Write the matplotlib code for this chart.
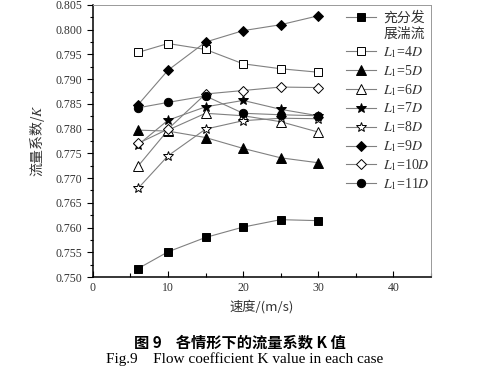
import matplotlib
matplotlib.use("Agg")
import matplotlib.pyplot as plt
from matplotlib.lines import Line2D
from matplotlib.ticker import MultipleLocator, FormatStrFormatter

plt.rcParams['font.family'] = ['Liberation Serif', 'Noto Sans CJK SC']
plt.rcParams['mathtext.fontset'] = 'stix'

speed = [6, 10, 15, 20, 25, 30]

k_full = [0.7517, 0.7551, 0.7580, 0.7601, 0.7616, 0.7614]
k_4d = [0.7954, 0.7972, 0.7960, 0.7931, 0.7921, 0.7914]
k_5d = [0.7797, 0.7795, 0.7782, 0.7760, 0.7741, 0.7731]
k_6d = [0.7724, 0.7797, 0.7831, 0.7826, 0.7814, 0.7793]
k_7d = [0.7767, 0.7817, 0.7844, 0.7857, 0.7839, 0.7826]
k_8d = [0.7679, 0.7745, 0.7799, 0.7816, 0.7821, 0.7820]
k_9d = [0.7848, 0.7918, 0.7975, 0.7998, 0.8010, 0.8028]
k_10d = [0.7770, 0.7799, 0.7870, 0.7877, 0.7884, 0.7883]
k_11d = [0.7842, 0.7853, 0.7866, 0.7831, 0.7828, 0.7826]

labels = ["充分发", r"$L_{\mathrm{1}}$=4$D$", r"$L_{\mathrm{1}}$=5$D$",
          r"$L_{\mathrm{1}}$=6$D$", r"$L_{\mathrm{1}}$=7$D$", r"$L_{\mathrm{1}}$=8$D$",
          r"$L_{\mathrm{1}}$=9$D$", r"$L_{\mathrm{1}}$=10$D$", r"$L_{\mathrm{1}}$=11$D$"]
series = [k_full, k_4d, k_5d, k_6d, k_7d, k_8d, k_9d, k_10d, k_11d]
# (marker, filled, size)
styles = [("s", True, 5.5), ("s", False, 5.5), ("^", True, 6.5), ("^", False, 6.5),
          ("*", True, 7.5), ("*", False, 7.5), ("D", True, 5.5), ("D", False, 5.5),
          ("o", True, 6)]

fig = plt.figure(figsize=(4.89, 3.79), dpi=100)
ax = fig.add_axes([0.190, 0.269, 0.691, 0.718])

handles = []
for vals, lab, (m, filled, ms) in zip(series, labels, styles):
    h, = ax.plot(speed, vals, color="#808080", lw=0.8, marker=m, markersize=ms,
                 markerfacecolor="black" if filled else "white",
                 markeredgecolor="black", markeredgewidth=0.7, label=lab)
    handles.append(h)

# second line of the first legend label
blank = Line2D([], [], linestyle="none", marker=None)
handles.insert(1, blank)
leg_labels = [h.get_label() for h in handles]
leg_labels[1] = "展湍流"

ax.set_xlim(0, 45)
ax.set_ylim(0.750, 0.805)
ax.xaxis.set_major_locator(MultipleLocator(10))
ax.xaxis.set_minor_locator(MultipleLocator(5))
ax.yaxis.set_major_locator(MultipleLocator(0.005))
ax.yaxis.set_minor_locator(MultipleLocator(0.0025))
ax.yaxis.set_major_formatter(FormatStrFormatter("%.3f"))

ax.tick_params(axis="x", which="both", direction="in", labelsize=8.5, width=0.8)
ax.tick_params(axis="x", which="major", length=4)
ax.tick_params(axis="x", which="minor", length=3)
ax.tick_params(axis="y", which="both", direction="out", labelsize=8.5, width=0.8)
ax.tick_params(axis="y", which="major", length=4)
ax.tick_params(axis="y", which="minor", length=2.5)
for lab in ax.get_xticklabels() + ax.get_yticklabels():
    lab.set_color("#333333")

for s in ["left", "bottom"]:
    ax.spines[s].set_linewidth(1.1)
    ax.spines[s].set_color("black")
for s in ["top", "right"]:
    ax.spines[s].set_linewidth(0.7)
    ax.spines[s].set_color("#999999")

ax.set_xlabel("速度/(m/s)", fontsize=9.5, family=["Noto Sans CJK SC"], color="#333333", labelpad=4)
ax.set_ylabel(r"流量系数/$K$", fontsize=10, family=["Noto Sans CJK SC"], color="#333333", labelpad=6)

leg = ax.legend(handles, leg_labels, loc="upper left", bbox_to_anchor=(0.746, 0.982),
                frameon=False, fontsize=10, handlelength=2.15, handletextpad=0.5,
                labelspacing=0.22, borderaxespad=0, borderpad=0.1)
for t in leg.get_texts():
    t.set_color("#333333")

fig.text(0.49, 0.095, "图 9    各情形下的流量系数 K 值", ha="center", va="center",
         fontsize=11, fontweight="bold", family=["Noto Sans CJK SC"])
fig.text(0.50, 0.052, "Fig.9    Flow coefficient K value in each case", ha="center", va="center",
         fontsize=11, family=["Liberation Serif"])

fig.savefig("out.png", dpi=100)
